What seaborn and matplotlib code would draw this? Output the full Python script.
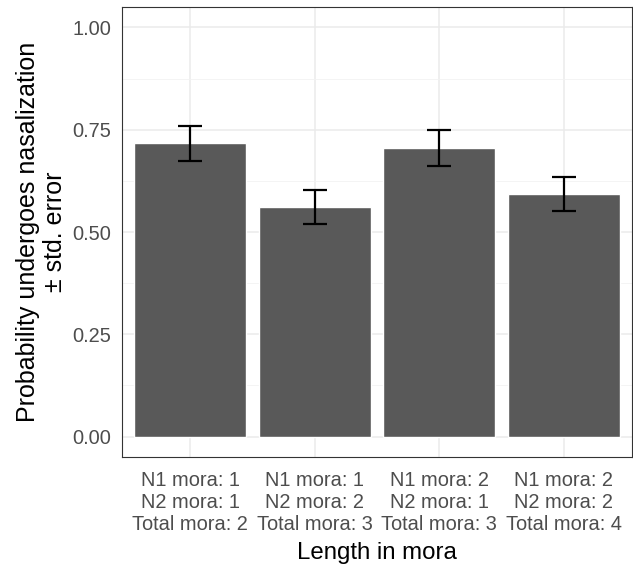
import matplotlib
matplotlib.use("Agg")
import matplotlib.pyplot as plt
import seaborn as sns
import pandas as pd
import numpy as np
from matplotlib.ticker import MultipleLocator

categories = ["N1 mora: 1\nN2 mora: 1\nTotal mora: 2",
              "N1 mora: 1\nN2 mora: 2\nTotal mora: 3",
              "N1 mora: 2\nN2 mora: 1\nTotal mora: 3",
              "N1 mora: 2\nN2 mora: 2\nTotal mora: 4"]
means = [0.717, 0.561, 0.705, 0.593]
std_err = [0.043, 0.042, 0.044, 0.041]
y_ticks = [0.00, 0.25, 0.50, 0.75, 1.00]
y_tick_labels = ["0.00", "0.25", "0.50", "0.75", "1.00"]

df = pd.DataFrame({"cat": categories, "mean": means, "se": std_err})

sns.set_style("white")
plt.rcParams['font.family'] = ['Liberation Sans', 'DejaVu Sans']

fig = plt.figure(figsize=(6.33, 5.64), dpi=100)
ax = fig.add_axes([122/633, (564-457)/564, (632-122)/633, (457-7)/564])

sns.barplot(data=df, x="cat", y="mean", color="#595959", width=0.9,
            saturation=1, errorbar=None, ax=ax, zorder=2)
ax.errorbar(np.arange(len(categories)), df["mean"], yerr=df["se"], fmt="none",
            ecolor="black", elinewidth=1.6, capsize=8.5, capthick=1.6, zorder=3)

ax.set_xlim(-0.55, 3.55)
ax.set_ylim(-0.05, 1.05)
ax.set_yticks(y_ticks)
ax.set_yticklabels(y_tick_labels)
ax.yaxis.set_minor_locator(MultipleLocator(0.125))

ax.set_axisbelow(True)
ax.grid(True, which="major", color="#EBEBEB", linewidth=1.1, zorder=0)
ax.grid(True, which="minor", axis="y", color="#F2F2F2", linewidth=0.6, zorder=0)
for s in ax.spines.values():
    s.set_color("#333333")
    s.set_linewidth(0.8)
    s.set_visible(True)

ax.tick_params(axis="both", which="major", length=4.5, width=1, color="#333333",
               labelcolor="#4D4D4D", labelsize=14.4, pad=3)
ax.tick_params(axis="x", pad=5.5)
ax.tick_params(axis="y", which="minor", length=0)
for lbl in ax.get_xticklabels():
    lbl.set_linespacing(1.2)
    lbl.set_fontsize(14.4)

ax.set_xlabel("Length in mora", fontsize=17.3, color="black", labelpad=6)
ax.set_ylabel("Probability undergoes nasalization\n± std. error", fontsize=18,
              color="black", labelpad=4, linespacing=1.15)

fig.savefig("out.png", dpi=100)
